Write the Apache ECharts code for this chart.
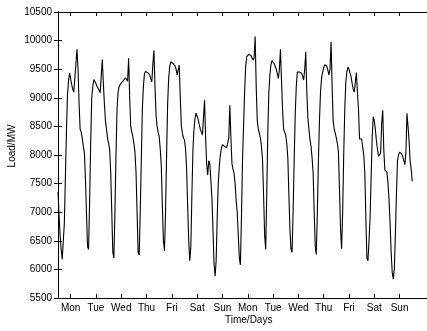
<!DOCTYPE html>
<html>
<head>
<meta charset="utf-8">
<script src="https://cdn.jsdelivr.net/npm/echarts@6/dist/echarts.min.js"></script>
<style>
  html, body { margin: 0; padding: 0; background: #fff; }
  #chart { width: 427px; height: 331px; }
</style>
</head>
<body>
<div id="chart"></div>
<script>
// hourly load (MW), one array per day
const mon1 = [7360, 6950, 6600, 6350, 6180, 6150, 6800, 7600, 8400, 9050, 9300, 9430, 9330, 9230, 9150, 9100, 9350, 9600, 9850, 9500, 8900, 8450, 8400, 8300];
const tue1 = [8150, 8050, 7600, 7000, 6400, 6350, 7200, 8200, 9000, 9200, 9320, 9330, 9250, 9200, 9170, 9130, 9090, 9080, 9670, 9250, 8900, 8600, 8450, 8300];
const wed1 = [8270, 8100, 7700, 7000, 6300, 6200, 7000, 8000, 8800, 9100, 9200, 9230, 9260, 9280, 9300, 9310, 9350, 9380, 9290, 9690, 9000, 8500, 8400, 8320];
const thu1 = [8200, 8050, 7700, 7000, 6300, 6250, 7000, 7900, 8800, 9200, 9420, 9460, 9450, 9440, 9430, 9400, 9330, 9280, 9600, 9830, 9200, 8700, 8500, 8400];
const fri1 = [8320, 8100, 7800, 7100, 6500, 6320, 7000, 8000, 8900, 9350, 9550, 9630, 9620, 9600, 9580, 9560, 9500, 9400, 9370, 9570, 9000, 8500, 8380, 8300];
const sat1 = [8260, 8100, 7750, 7100, 6500, 6150, 6400, 7300, 8100, 8450, 8650, 8730, 8710, 8620, 8530, 8450, 8400, 8350, 8650, 8960, 8300, 7850, 7650, 7900];
const sun1 = [7850, 7550, 7250, 6700, 6100, 5880, 6150, 6900, 7500, 7800, 8000, 8120, 8180, 8200, 8150, 8120, 8130, 8140, 8300, 8870, 8300, 7850, 7750, 7680];
const mon2 = [7500, 7200, 7000, 6600, 6200, 6080, 6900, 7900, 8500, 9100, 9550, 9720, 9740, 9760, 9770, 9740, 9700, 9660, 9700, 10070, 9200, 8600, 8450, 8380];
const tue2 = [8300, 8150, 7920, 7300, 6600, 6350, 7300, 8400, 9100, 9400, 9580, 9650, 9620, 9600, 9570, 9500, 9420, 9340, 9500, 9850, 9300, 8800, 8450, 8400];
const wed2 = [8350, 8200, 7950, 7300, 6700, 6350, 6300, 7000, 7900, 8700, 9200, 9450, 9460, 9450, 9440, 9430, 9380, 9310, 9500, 9800, 9100, 8650, 8450, 8270];
const thu2 = [8150, 7950, 7680, 7000, 6400, 6260, 7000, 7900, 8600, 9100, 9350, 9450, 9520, 9580, 9600, 9550, 9480, 9400, 9500, 9980, 9200, 8600, 8450, 8380];
const fri2 = [8300, 8200, 8050, 7400, 6700, 6360, 7000, 8000, 8800, 9280, 9450, 9540, 9500, 9430, 9370, 9250, 9150, 9100, 9110, 9440, 9100, 8800, 8280, 8270];
const sat2 = [8280, 8250, 8000, 7700, 6900, 6200, 6150, 6500, 6900, 7600, 8300, 8670, 8600, 8450, 8250, 8100, 7980, 7950, 8030, 8550, 8780, 8100, 7740, 7710];
const sun2 = [7700, 7500, 7220, 6800, 6300, 5950, 5830, 6000, 6600, 7300, 7900, 8000, 8050, 8080, 8020, 7970, 7900, 7830, 8050, 8730, 8500, 8250, 7900, 7750, 7540];

const dayLabels = ['Mon', 'Tue', 'Wed', 'Thu', 'Fri', 'Sat', 'Sun', 'Mon', 'Tue', 'Wed', 'Thu', 'Fri', 'Sat', 'Sun'];

const load = [].concat(mon1, tue1, wed1, thu1, fri1, sat1, sun1, mon2, tue2, wed2, thu2, fri2, sat2, sun2);
const seriesData = load.map((v, i) => [i, v]);
const dayCentres = dayLabels.map((d, i) => 12 + 24 * i);

const chart = echarts.init(document.getElementById('chart'), null, { renderer: 'canvas' });
const font = 'Liberation Sans, Arial, sans-serif';

const option = {
    animation: false,
    backgroundColor: '#fff',
    grid: { left: 58, right: -1, top: 12, bottom: 33 },
    xAxis: [
        {
            type: 'value',
            min: 0,
            max: 350,
            axisLine: { lineStyle: { color: '#000', width: 1 } },
            axisTick: { inside: true, length: 4, customValues: dayCentres, lineStyle: { color: '#000' } },
            axisLabel: {
                customValues: dayCentres,
                formatter: v => dayLabels[Math.round((v - 12) / 24)],
                color: '#000', fontFamily: font, fontSize: 10, margin: 5
            },
            splitLine: { show: false }
        },
        {
            type: 'value',
            position: 'top',
            min: 0,
            max: 350,
            axisLine: { show: true, lineStyle: { color: '#000', width: 1 } },
            axisTick: { show: true, inside: true, length: 4, customValues: dayCentres, lineStyle: { color: '#000' } },
            axisLabel: { show: false },
            splitLine: { show: false }
        }
    ],
    yAxis: [
        {
            type: 'value',
            min: 5500,
            max: 10500,
            interval: 500,
            axisLine: { show: true, lineStyle: { color: '#000', width: 1 } },
            axisTick: { show: true, inside: true, length: 4, lineStyle: { color: '#000' } },
            axisLabel: { color: '#000', fontFamily: font, fontSize: 10, margin: 6, formatter: v => String(v) },
            splitLine: { show: false }
        },
        {
            type: 'value',
            position: 'right',
            min: 5500,
            max: 10500,
            interval: 500,
            axisLine: { show: true, lineStyle: { color: '#000', width: 1 } },
            axisTick: { show: true, inside: true, length: 4, lineStyle: { color: '#000' } },
            axisLabel: { show: false },
            splitLine: { show: false }
        }
    ],
    graphic: [
        {
            type: 'text',
            left: 250 - 25,
            top: 315,
            style: { text: 'Time/Days', fill: '#000', font: '10px ' + font }
        },
        {
            type: 'text',
            x: 12,
            y: 146,
            rotation: Math.PI / 2,
            style: { text: 'Load/MW', fill: '#000', font: '10px ' + font, align: 'center', verticalAlign: 'middle' }
        }
    ],
    series: [
        {
            type: 'line',
            data: seriesData,
            showSymbol: false,
            lineStyle: { color: '#000', width: 1.1 },
            xAxisIndex: 0,
            yAxisIndex: 0
        }
    ]
};

chart.setOption(option);
</script>
</body>
</html>
